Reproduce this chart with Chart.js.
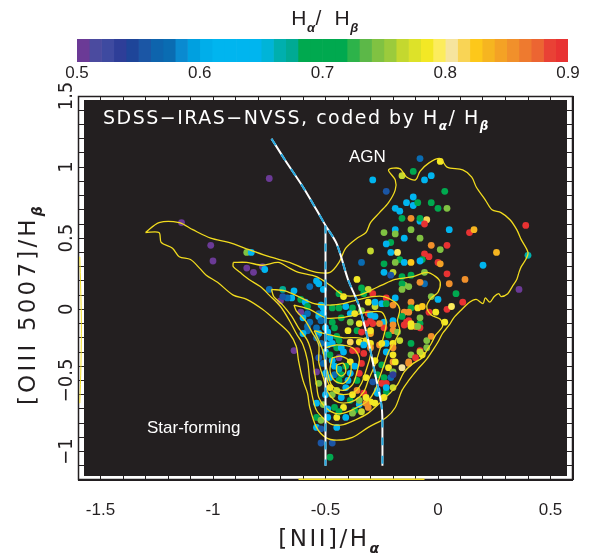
<!DOCTYPE html>
<html><head><meta charset="utf-8">
<script src="https://cdn.jsdelivr.net/npm/chart.js@4/dist/chart.umd.min.js"></script>
<style>
html,body{margin:0;padding:0;background:#fff;}
#wrap{position:relative;width:593px;height:553px;}
canvas{position:absolute;left:0;top:0;}
</style></head><body>
<div id="wrap">
<canvas id="main" width="593" height="553"></canvas>
<canvas id="cbar" width="593" height="90"></canvas>
</div>
<script>
// ---------- axis ranges and tick labels ----------
const xMin = -1.6, xMax = 0.6, yMin = -1.2, yMax = 1.5;
const xTickLabels = [-1.5, -1, -0.5, 0, 0.5];
const yTickLabels = [-1, -0.5, 0, 0.5, 1, 1.5];
const cbMin = 0.5, cbMax = 0.9;
const cbTickLabels = [0.5, 0.6, 0.7, 0.8, 0.9];
// colour bar: one colour per 0.01 bin of Halpha/Hbeta
const cbColors = ['#6b3a96','#4b4b9f','#3e4aa0','#2e3e98','#1e4599','#1b56a5','#0e64ad','#0a6cb2','#0a8ad0','#00a0e0',
  '#00aeea','#00b5ef','#00b5ef','#00b5ef','#00b5ef','#00b4d8','#00afae','#00aa94','#00a94f','#00a94f',
  '#00a94f','#00a94f','#2db34a','#5cb848','#80c242','#9bcb3c','#c4d82f','#dde229','#f3e825','#fcec5c',
  '#f6e49e','#f9d455','#fdc81a','#f6b520','#f4a225','#f1902b','#ee7a2f','#ec6532','#e94135','#e83232'];

// ---------- scatter points: [log NII/Ha, log OIII/Hb, Ha/Hb code] ----------
const agnPts = [
[-0.08,1.06,0.57],[0.01,1.04,0.78],[-0.16,0.94,0.76],[-0.11,0.97,0.70],[-0.03,0.94,0.64],[-0.06,0.91,0.62],
[-0.29,0.91,0.62],[-0.23,0.83,0.55],[0.03,0.83,0.70],[-0.11,0.79,0.62],[-0.19,0.71,0.62],[-0.17,0.69,0.62],
[-0.14,0.75,0.62],[-0.11,0.73,0.62],[-0.09,0.75,0.70],[-0.03,0.75,0.70],[0.00,0.71,0.71],[0.04,0.71,0.74],
[-0.16,0.64,0.70],[-0.12,0.64,0.85],[-0.08,0.62,0.62],[-0.08,0.64,0.70],[-0.05,0.63,0.81],[-0.06,0.60,0.89],
[-0.24,0.54,0.74],[-0.19,0.56,0.62],[-0.19,0.53,0.74],[-0.12,0.56,0.74],[0.05,0.56,0.62],[0.14,0.54,0.89],
[0.16,0.56,0.83],[0.39,0.59,0.89],[-0.15,0.50,0.62],[-0.08,0.50,0.74],[-0.21,0.47,0.70],[-0.23,0.46,0.62],
[-0.30,0.41,0.76],[-0.18,0.40,0.79],[-0.21,0.40,0.62],[-0.03,0.45,0.85],[0.01,0.42,0.74],[0.04,0.45,0.89],
[-0.06,0.39,0.89],[-0.04,0.37,0.89],[-0.07,0.35,0.70],[-0.08,0.34,0.62],[-0.17,0.35,0.70],[-0.15,0.33,0.62],
[-0.19,0.33,0.74],[-0.12,0.33,0.82],[-0.24,0.32,0.70],[-0.34,0.33,0.57],[0.00,0.33,0.89],[0.01,0.32,0.84],
[0.26,0.40,0.83],[0.40,0.38,0.66],[0.20,0.31,0.62],[0.04,0.25,0.89],[0.05,0.18,0.85],[0.12,0.21,0.85],
[-0.06,0.26,0.74],[-0.12,0.24,0.70],[-0.06,0.18,0.57],[-0.08,0.19,0.85],[-0.15,0.17,0.74],[-0.16,0.23,0.70],
[-0.20,0.26,0.76],[-0.24,0.26,0.62],[-0.21,0.24,0.55],[0.36,0.14,0.50],[-0.16,0.18,0.70],[-0.13,0.16,0.74],
[-0.16,0.14,0.74],[0.08,0.11,0.70],[0.11,0.05,0.89]
];
const armPts = [
[-0.75,0.92,0.50],[-1.14,0.61,0.50],[-1.01,0.45,0.50],[-1.00,0.34,0.50],[-0.85,0.40,0.74],[-0.83,0.40,0.62],
[-0.85,0.29,0.50],[-0.82,0.26,0.50],[-0.78,0.30,0.50],[-0.77,0.28,0.62],[-0.75,0.14,0.57],[-0.69,0.14,0.67],
[-0.64,0.13,0.62],[-0.65,0.08,0.62],[-0.67,0.08,0.57],[-0.70,0.06,0.50],[-0.61,0.07,0.70],[-0.59,0.05,0.62],
[-0.58,0.02,0.70],[-0.61,-0.02,0.50],[-0.57,0.16,0.57],[-0.54,0.20,0.62],[-0.53,0.18,0.62],[-0.51,0.14,0.62],
[-0.52,0.03,0.62],[-0.51,0.01,0.62],[-0.53,-0.03,0.57],[-0.58,-0.03,0.57],[-0.69,0.09,0.55],[-0.64,-0.29,0.50]
];
const compPts = [
[-0.36,0.21,0.78],[-0.34,0.15,0.70],[-0.29,0.11,0.89],[-0.31,0.14,0.76],[-0.33,0.11,0.70],
[-0.44,0.11,0.70],[-0.42,0.09,0.78],[-0.47,0.01,0.70],[-0.44,0.01,0.70],[-0.41,0.02,0.62],[-0.38,0.01,0.70],
[-0.39,-0.03,0.62],[-0.37,-0.03,0.78],[-0.34,-0.01,0.74],[-0.31,0.05,0.78],[-0.31,-0.03,0.89],[-0.28,0.02,0.76],
[-0.60,-0.06,0.62],[-0.53,-0.05,0.62],[-0.51,-0.03,0.62],[-0.47,-0.09,0.70],[-0.43,-0.06,0.70],[-0.39,-0.09,0.74],
[-0.35,-0.10,0.78],[-0.32,-0.10,0.89],[-0.30,-0.08,0.89],[-0.57,-0.09,0.57],[-0.54,-0.13,0.57],[-0.58,-0.15,0.57],
[-0.60,-0.17,0.62],[-0.53,-0.17,0.62],[-0.50,-0.13,0.62],[-0.46,-0.13,0.70],[-0.40,-0.15,0.78],[-0.36,-0.15,0.70],
[-0.34,-0.16,0.89],[-0.30,-0.17,0.84],[-0.48,-0.20,0.62],[-0.44,-0.22,0.70],[-0.39,-0.23,0.81],[-0.35,-0.23,0.78],
[-0.32,-0.22,0.78],[-0.52,-0.24,0.57],[-0.49,-0.25,0.62],[-0.45,-0.27,0.70],[-0.43,-0.27,0.62],[-0.38,-0.29,0.89],
[-0.33,-0.25,0.62],[-0.30,-0.24,0.78],[-0.26,-0.25,0.85],[-0.23,-0.24,0.62],[-0.20,-0.24,0.78],[-0.53,-0.34,0.55],
[-0.47,-0.36,0.62],[-0.44,-0.34,0.50],[-0.39,-0.37,0.78],[-0.34,-0.38,0.89],[-0.28,-0.36,0.78],[-0.25,-0.39,0.70],
[-0.22,-0.41,0.78],[-0.20,-0.37,0.85],[-0.54,-0.44,0.50],[-0.50,-0.45,0.62],[-0.46,-0.46,0.57],[-0.43,-0.46,0.70],
[-0.39,-0.45,0.62],[-0.35,-0.45,0.89],[-0.32,-0.48,0.78],[-0.27,-0.46,0.70],[-0.24,-0.48,0.70],[-0.21,-0.48,0.57],
[-0.23,-0.52,0.89],[-0.25,-0.52,0.89],[-0.53,-0.52,0.74],[-0.48,-0.55,0.78],[-0.45,-0.57,0.76],[-0.41,-0.55,0.62],
[-0.36,-0.57,0.85],[-0.33,-0.59,0.89],[-0.27,-0.59,0.62],[-0.23,-0.58,0.70],[-0.20,-0.55,0.76],[-0.30,-0.65,0.78],
[-0.28,-0.66,0.78],[-0.31,-0.69,0.85],[-0.24,-0.62,0.78],[-0.54,-0.66,0.62],[-0.51,-0.67,0.74],[-0.46,-0.69,0.70],
[-0.42,-0.69,0.78],[-0.37,-0.71,0.70],[-0.35,-0.67,0.62],[-0.34,-0.72,0.76],[-0.54,-0.76,0.70],[-0.49,-0.76,0.62],
[-0.52,-0.78,0.74],[-0.45,-0.76,0.78],[-0.41,-0.76,0.62],[-0.38,-0.73,0.74],[-0.45,-0.83,0.62],[-0.54,-0.83,0.62],
[-0.52,-0.84,0.55],[-0.52,-0.94,0.55],[-0.47,-0.94,0.55],[-0.48,-1.04,0.70],
[-0.28,0.05,0.62],[-0.25,0.04,0.62],[-0.23,0.08,0.89],[-0.23,0.04,0.70],[-0.20,0.03,0.85],[-0.19,0.08,0.62],
[-0.12,0.05,0.85],[-0.03,0.09,0.74],[0.00,0.07,0.62],[-0.12,0.01,0.70],[-0.09,0.01,0.78],[-0.07,0.02,0.82],
[-0.15,-0.02,0.85],[-0.13,-0.02,0.85],[-0.16,-0.05,0.70],[-0.13,-0.08,0.89],[-0.14,-0.09,0.89],[-0.15,-0.11,0.89],
[-0.04,-0.02,0.89],[-0.01,-0.02,0.78],[0.04,0.00,0.89],[0.06,0.02,0.79],[0.03,-0.09,0.78],[-0.08,-0.10,0.70],
[-0.10,-0.12,0.85],[-0.08,-0.13,0.89],[-0.12,-0.12,0.78],[-0.20,-0.08,0.62],[-0.24,-0.09,0.62],[-0.24,-0.13,0.89],
[-0.20,-0.11,0.85],[-0.20,-0.15,0.85],[-0.22,-0.18,0.70],[-0.18,-0.16,0.74],[-0.17,-0.22,0.76],[-0.12,-0.24,0.70],
[-0.05,-0.22,0.74],[-0.03,-0.19,0.85],[-0.28,-0.05,0.62],[-0.30,-0.04,0.62],[-0.29,-0.10,0.89],[-0.26,-0.10,0.85],
[-0.30,-0.15,0.78],[-0.08,-0.29,0.89],[-0.05,-0.27,0.74],[-0.12,-0.32,0.74],[-0.07,-0.32,0.78],[-0.13,-0.37,0.85],
[-0.19,-0.37,0.78],[-0.16,-0.41,0.80],
[-0.58,-0.12,0.57],[-0.52,-0.08,0.57],[-0.54,-0.20,0.57],[-0.49,-0.16,0.62],[-0.47,-0.24,0.62],[-0.45,-0.19,0.70],
[-0.36,-0.29,0.89],[-0.33,-0.31,0.89],[-0.30,-0.27,0.85],[-0.25,-0.24,0.78],[-0.23,-0.30,0.62],[-0.20,-0.32,0.78],
[-0.20,-0.27,0.85],[-0.12,-0.10,0.78],[-0.09,-0.12,0.74],[-0.08,-0.06,0.74],[-0.08,-0.30,0.76],[-0.10,-0.34,0.89],
[-0.13,-0.38,0.85],[-0.20,-0.44,0.74],[-0.29,-0.51,0.55],[-0.23,-0.55,0.62],[-0.27,-0.57,0.62],[-0.20,-0.46,0.53],
[-0.39,-0.64,0.70],[-0.35,-0.64,0.74],[-0.32,-0.66,0.85],[-0.32,-0.62,0.78],
[-0.50,-0.30,0.62],[-0.48,-0.32,0.70],[-0.46,-0.40,0.62],[-0.44,-0.42,0.66],[-0.48,-0.48,0.62],[-0.44,-0.50,0.70],
[-0.47,-0.60,0.74],[-0.43,-0.62,0.62],[-0.50,-0.60,0.62],[-0.40,-0.50,0.62],[-0.41,-0.40,0.70],[-0.37,-0.40,0.62],
[-0.38,-0.60,0.78],[-0.49,-0.70,0.62],[-0.44,-0.72,0.70],[-0.51,-0.38,0.57],[-0.42,-0.30,0.62],[-0.36,-0.50,0.70]
];

// ---------- density contours (closed outlines, data units) ----------
const contour1 = [[-1.30,0.54],[-1.24,0.61],[-1.15,0.61],[-1.09,0.56],[-1.01,0.50],[-0.93,0.47],[-0.84,0.42],[-0.75,0.37],
[-0.66,0.33],[-0.60,0.29],[-0.54,0.26],[-0.48,0.26],[-0.44,0.33],[-0.41,0.43],[-0.36,0.50],[-0.32,0.54],[-0.30,0.61],
[-0.26,0.68],[-0.22,0.75],[-0.19,0.84],[-0.19,0.91],[-0.22,0.98],[-0.17,0.99],[-0.14,0.93],[-0.10,0.91],[-0.08,0.97],
[-0.04,1.03],[0.01,1.06],[0.04,1.00],[0.11,0.98],[0.15,0.93],[0.17,0.86],[0.21,0.77],[0.24,0.70],[0.28,0.68],[0.32,0.63],
[0.35,0.56],[0.37,0.49],[0.40,0.40],[0.39,0.35],[0.37,0.30],[0.36,0.26],[0.35,0.21],[0.33,0.16],[0.31,0.11],[0.28,0.09],
[0.27,0.11],[0.25,0.09],[0.23,0.05],[0.21,0.08],[0.20,0.04],[0.17,0.07],[0.14,0.05],[0.10,-0.01],[0.07,-0.06],[0.05,-0.11],
[0.02,-0.17],[0.00,-0.23],[-0.02,-0.28],[-0.05,-0.35],[-0.09,-0.42],[-0.13,-0.50],[-0.16,-0.57],[-0.19,-0.69],[-0.23,-0.76],
[-0.31,-0.83],[-0.38,-0.90],[-0.45,-0.92],[-0.50,-0.90],[-0.54,-0.83],[-0.57,-0.69],[-0.58,-0.59],[-0.60,-0.50],[-0.62,-0.36],
[-0.63,-0.26],[-0.66,-0.17],[-0.72,-0.08],[-0.78,0.00],[-0.85,0.07],[-0.91,0.10],[-0.98,0.19],[-1.03,0.24],[-1.06,0.29],
[-1.10,0.35],[-1.15,0.37],[-1.18,0.43],[-1.23,0.47],[-1.24,0.54],[-1.30,0.54]];
const contour2 = [[-0.91,0.33],[-0.85,0.33],[-0.78,0.31],[-0.71,0.33],[-0.66,0.29],[-0.62,0.26],[-0.54,0.23],[-0.48,0.17],
[-0.42,0.10],[-0.35,0.10],[-0.29,0.14],[-0.25,0.17],[-0.19,0.21],[-0.11,0.23],[-0.05,0.26],[-0.01,0.23],[0.01,0.19],
[0.00,0.12],[-0.03,0.08],[-0.05,0.02],[-0.03,-0.04],[0.01,-0.07],[0.02,-0.12],[-0.01,-0.18],[-0.03,-0.24],[-0.05,-0.29],
[-0.07,-0.34],[-0.11,-0.38],[-0.15,-0.44],[-0.18,-0.53],[-0.22,-0.60],[-0.26,-0.66],[-0.31,-0.73],[-0.37,-0.78],[-0.42,-0.81],
[-0.47,-0.81],[-0.50,-0.78],[-0.54,-0.71],[-0.56,-0.60],[-0.57,-0.50],[-0.58,-0.36],[-0.60,-0.25],[-0.63,-0.17],[-0.66,-0.08],
[-0.70,0.02],[-0.75,0.10],[-0.79,0.16],[-0.84,0.21],[-0.88,0.26],[-0.91,0.30],[-0.91,0.33]];
const contour3 = [[-0.74,0.14],[-0.68,0.13],[-0.62,0.09],[-0.55,0.04],[-0.48,0.03],[-0.42,0.04],[-0.35,0.07],[-0.29,0.09],
[-0.24,0.09],[-0.19,0.05],[-0.17,0.00],[-0.18,-0.08],[-0.17,-0.15],[-0.19,-0.22],[-0.22,-0.30],[-0.24,-0.39],[-0.26,-0.48],
[-0.28,-0.57],[-0.31,-0.64],[-0.36,-0.69],[-0.42,-0.73],[-0.46,-0.73],[-0.50,-0.69],[-0.53,-0.62],[-0.54,-0.53],[-0.55,-0.43],
[-0.56,-0.32],[-0.58,-0.22],[-0.62,-0.13],[-0.65,-0.05],[-0.69,0.03],[-0.73,0.09],[-0.74,0.14]];
const contour4 = [[-0.64,0.03],[-0.57,0.00],[-0.50,-0.06],[-0.44,-0.06],[-0.37,-0.04],[-0.31,-0.02],[-0.25,-0.02],[-0.23,-0.09],
[-0.24,-0.18],[-0.26,-0.29],[-0.28,-0.39],[-0.31,-0.50],[-0.33,-0.58],[-0.37,-0.64],[-0.42,-0.66],[-0.46,-0.64],[-0.49,-0.58],
[-0.51,-0.48],[-0.53,-0.37],[-0.53,-0.25],[-0.56,-0.16],[-0.59,-0.08],[-0.63,-0.01],[-0.64,0.03]];
const contour5 = [[-0.55,-0.15],[-0.48,-0.18],[-0.42,-0.20],[-0.35,-0.20],[-0.30,-0.23],[-0.30,-0.32],[-0.32,-0.43],[-0.34,-0.52],
[-0.37,-0.58],[-0.42,-0.60],[-0.46,-0.58],[-0.49,-0.51],[-0.50,-0.41],[-0.51,-0.30],[-0.53,-0.22],[-0.55,-0.15]];
const contour6 = [[-0.50,-0.27],[-0.45,-0.25],[-0.38,-0.27],[-0.35,-0.34],[-0.36,-0.44],[-0.38,-0.53],[-0.42,-0.57],[-0.47,-0.54],
[-0.49,-0.45],[-0.50,-0.36],[-0.50,-0.27]];
const contour7 = [[-0.47,-0.34],[-0.43,-0.33],[-0.39,-0.37],[-0.39,-0.46],[-0.42,-0.52],[-0.46,-0.50],[-0.48,-0.43],[-0.47,-0.34]];
const contour8 = [[-0.45,-0.39],[-0.42,-0.38],[-0.41,-0.44],[-0.43,-0.47],[-0.45,-0.44],[-0.45,-0.39]];
const edgeLeft = [[-1.592,0.37],[-1.588,0.15],[-1.585,-0.10],[-1.587,-0.40],[-1.592,-0.66]];
const edgeBottom = [[-0.62,-1.194],[-0.06,-1.194]];

// ---------- demarcation lines ----------
const divCurve = [[-0.74,1.20],[-0.68,1.05],[-0.60,0.86],[-0.54,0.70],[-0.50,0.59],[-0.45,0.46],[-0.40,0.21],[-0.35,0.02],
[-0.31,-0.22],[-0.28,-0.45],[-0.25,-0.69],[-0.247,-0.90],[-0.247,-1.10]];
const divVertical = [[-0.5,0.59],[-0.5,-1.10]];

// ---------- helpers ----------
const INK = '#231f20';
function ratioColor(r){ let i = Math.floor((r - cbMin) / 0.01 + 1e-6); i = Math.max(0, Math.min(cbColors.length - 1, i)); return cbColors[i]; }
const toXY = a => a.map(p => ({x: p[0], y: p[1]}));
function richText(ctx, parts, x, y, size, family, color, align, spacing, weight){
  ctx.save();
  ctx.fillStyle = color; ctx.textBaseline = 'alphabetic'; ctx.textAlign = 'left';
  ctx.letterSpacing = (spacing || 0) + 'px';
  const setF = p => { ctx.font = p[1] ? `italic bold ${Math.round(size*0.62)}px ${family}` : `${weight||'normal'} ${size}px ${family}`; };
  const widths = parts.map(p => { setF(p); return ctx.measureText(p[0]).width; });
  const total = widths.reduce((a,b)=>a+b,0);
  let cx = align === 'center' ? x - total/2 : x;
  parts.forEach((p,i) => { setF(p); ctx.fillText(p[0], cx, y + (p[1] ? size*0.32 : 0)); cx += widths[i]; });
  ctx.restore();
}
const near = (a, v) => a.find(t => Math.abs(t - v) < 1e-6);

// ---------- datasets ----------
const allPts = agnPts.concat(armPts, compPts);
const contourList = [contour1, contour2, contour3, contour4, contour5, contour6, contour7, contour8];
const YEL = '#f2dc1e';
const datasets = [];
datasets.push({data: toXY(divCurve), showLine: true, pointRadius: 0, borderColor: '#27aae1', borderWidth: 2, borderDash: [8, 10], tension: 0.3, order: 0});
datasets.push({data: toXY(divVertical), showLine: true, pointRadius: 0, borderColor: '#27aae1', borderWidth: 2, borderDash: [8, 10], order: 0});
datasets.push({data: toXY(divCurve), showLine: true, pointRadius: 0, borderColor: '#ffffff', borderWidth: 2, tension: 0.3, order: 1});
datasets.push({data: toXY(divVertical), showLine: true, pointRadius: 0, borderColor: '#ffffff', borderWidth: 2, order: 1});
contourList.forEach(c => datasets.push({data: toXY(c), showLine: true, pointRadius: 0, borderColor: YEL, borderWidth: 1.3, tension: 0.3, order: 2}));
datasets.push({data: toXY(edgeLeft), showLine: true, pointRadius: 0, borderColor: YEL, borderWidth: 1, tension: 0.3, clip: false, order: 2});
datasets.push({data: toXY(edgeBottom), showLine: true, pointRadius: 0, borderColor: YEL, borderWidth: 1.5, clip: false, order: 2});
datasets.push({data: toXY(allPts), pointRadius: 3.4, pointBorderWidth: 0, borderWidth: 0,
  pointBackgroundColor: allPts.map(p => ratioColor(p[2])), pointBorderColor: allPts.map(p => ratioColor(p[2])), order: 3});

const decor = {
  id: 'decor',
  beforeDatasetsDraw(chart){
    const {ctx, chartArea: a} = chart;
    ctx.save();
    ctx.fillStyle = INK;
    ctx.fillRect(a.left + 6, a.top + 4, a.right - a.left - 12, a.bottom - a.top - 8);
    ctx.lineWidth = 1.5; ctx.strokeStyle = INK;
    ctx.strokeRect(a.left + 0.5, a.top + 0.5, a.right - a.left - 1, a.bottom - a.top - 1);
    ctx.restore();
  },
  afterDraw(chart){
    const {ctx} = chart;
    const ys = chart.scales.y;
    // y tick labels, rotated
    ctx.save();
    ctx.fillStyle = INK; ctx.font = '20px "Liberation Sans Narrow", "DejaVu Sans Condensed", sans-serif';
    ctx.textAlign = 'center'; ctx.textBaseline = 'alphabetic';
    yTickLabels.forEach(v => {
      const py = ys.getPixelForValue(v);
      const s = v < 0 ? '\u2212' + Math.abs(v) : String(v);
      ctx.save(); ctx.translate(72, py); ctx.rotate(-Math.PI/2); ctx.fillText(s, 0, 0); ctx.restore();
    });
    ctx.restore();
    // in-plot labels
    richText(ctx, [['SDSS\u2212IRAS\u2212NVSS, coded by H'], ['\u03b1', true], ['/ H'], ['\u03b2', true]], 103, 124, 19, '"DejaVu Sans"', '#ffffff', 'left', 1.5);
    richText(ctx, [['AGN']], 349, 162, 17, '"Liberation Sans", Arial', '#ffffff', 'left', 0);
    richText(ctx, [['Star-forming']], 147, 433, 17, '"Liberation Sans", Arial', '#ffffff', 'left', 0);
    // axis titles
    richText(ctx, [['[NII]/H'], ['\u03b1', true]], 330, 546, 23, '"DejaVu Sans"', INK, 'center', 2.5);
    ctx.save(); ctx.translate(35, 304); ctx.rotate(-Math.PI/2);
    richText(ctx, [['[OIII 5007]/H'], ['\u03b2', true]], 0, 0, 23, '"DejaVu Sans"', INK, 'center', 3.2);
    ctx.restore();
  }
};

new Chart(document.getElementById('main'), {
  type: 'scatter',
  data: {datasets},
  options: {
    responsive: false, animation: false, devicePixelRatio: 1,
    layout: {padding: {left: 0, top: 96, right: 19, bottom: 0}},
    plugins: {legend: {display: false}, tooltip: {enabled: false}},
    scales: {
      x: {type: 'linear', min: xMin, max: xMax, afterFit: s => { s.height = 73; },
        ticks: {stepSize: 0.1, autoSkip: false, maxRotation: 0, minRotation: 0, padding: 20, color: INK,
          font: {family: '"Liberation Sans", Arial', size: 17},
          callback: v => { const m = near(xTickLabels, v); return m === undefined ? '' : String(m); }},
        grid: {color: INK, lineWidth: 1, drawTicks: false}, border: {display: false}},
      y: {type: 'linear', min: yMin, max: yMax, afterFit: s => { s.width = 78; },
        ticks: {stepSize: 0.1, autoSkip: false, display: false},
        grid: {color: INK, lineWidth: 1, drawTicks: false}, border: {display: false}}
    }
  },
  plugins: [decor]
});

// ---------- colour bar ----------
const cbStep = (cbMax - cbMin) / cbColors.length;
new Chart(document.getElementById('cbar'), {
  type: 'bar',
  data: {labels: [''], datasets: cbColors.map((c, i) => ({data: [[cbMin + i*cbStep, cbMin + (i+1)*cbStep]], backgroundColor: c,
    borderWidth: 0, grouped: false, barPercentage: 1, categoryPercentage: 1}))},
  options: {
    indexAxis: 'y', responsive: false, animation: false, devicePixelRatio: 1,
    layout: {padding: {left: 77, right: 25, top: 39, bottom: 0}},
    plugins: {legend: {display: false}, tooltip: {enabled: false}},
    scales: {
      x: {type: 'linear', min: cbMin, max: cbMax, afterFit: s => { s.height = 28; },
        ticks: {stepSize: 0.1, padding: 1, maxRotation: 0, color: INK, font: {family: '"Liberation Sans", Arial', size: 17},
          callback: v => { const m = near(cbTickLabels, v); return m === undefined ? '' : m.toFixed(1); }},
        grid: {display: false, drawTicks: false}, border: {display: false}},
      y: {display: false}
    }
  },
  plugins: [{id: 'cbtitle', afterDraw(chart){
    richText(chart.ctx, [['H'], ['\u03b1', true], ['/  H'], ['\u03b2', true]], 325, 25, 21, '"Liberation Sans", Arial', INK, 'center', 0.5);
  }}]
});
</script>
</body></html>
